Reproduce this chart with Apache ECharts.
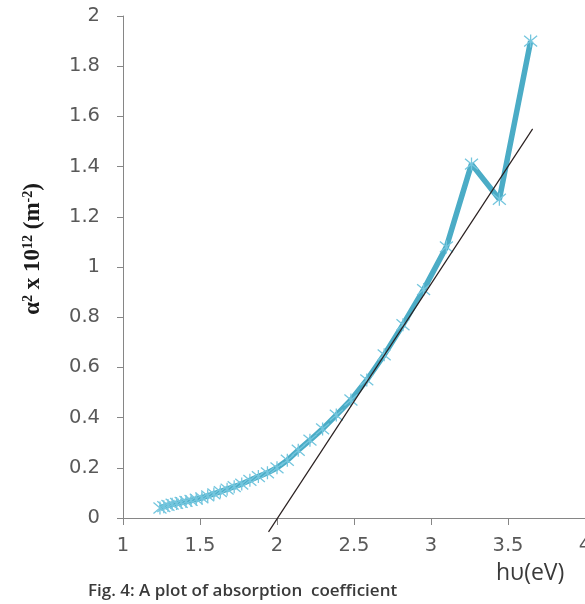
<!DOCTYPE html>
<html>
<head>
<meta charset="utf-8">
<script src="https://cdn.jsdelivr.net/npm/echarts@6/dist/echarts.min.js"></script>
<style>
html,body{margin:0;padding:0;background:#fff;overflow:hidden;}
#c{width:585px;height:604px;}
</style>
</head>
<body>
<div id="c"></div>
<script>
// photon energy hv (eV)
var energy = [1.24, 1.265, 1.292, 1.319, 1.348, 1.378, 1.409, 1.442, 1.476, 1.512,
              1.55, 1.59, 1.632, 1.676, 1.722, 1.771, 1.824, 1.879, 1.938, 2.0,
              2.067, 2.138, 2.214, 2.296, 2.385, 2.48, 2.583, 2.696, 2.818, 2.952,
              3.1, 3.263, 3.444, 3.647];
// alpha^2 x 10^12 (m^-2)
var alpha2 = [0.04, 0.045, 0.05, 0.055, 0.058, 0.062, 0.066, 0.07, 0.075, 0.08,
              0.088, 0.096, 0.105, 0.115, 0.125, 0.135, 0.15, 0.165, 0.18, 0.2,
              0.23, 0.27, 0.31, 0.355, 0.41, 0.47, 0.55, 0.65, 0.77, 0.91,
              1.08, 1.41, 1.27, 1.9];
// linear extrapolation (tangent) line end points
var fitX = [1.945, 3.66];
var fitY = [-0.055, 1.55];
// tick labels
var xTicks = [1, 1.5, 2, 2.5, 3, 3.5, 4];
var yTicks = [0, 0.2, 0.4, 0.6, 0.8, 1, 1.2, 1.4, 1.6, 1.8, 2];

var dataPts = energy.map(function (e, i) { return [e, alpha2[i]]; });
var fitPts = fitX.map(function (e, i) { return [e, fitY[i]]; });

var chart = echarts.init(document.getElementById('c'), null, {renderer: 'canvas', width: 585, height: 604});
var axisCol = '#868686';
var labelCol = '#595959';
chart.setOption({
  animation: false,
  backgroundColor: '#ffffff',
  grid: {left: 123, right: 0, top: 16, bottom: 86, containLabel: false, outerBoundsMode: 'none'},
  xAxis: {
    type: 'value', min: 1, max: 4, interval: 0.5,
    axisLine: {show: true, onZero: false, lineStyle: {color: axisCol, width: 1}},
    axisTick: {show: true, length: 7, lineStyle: {color: axisCol}},
    splitLine: {show: false},
    axisLabel: {margin: 18, color: labelCol, fontFamily: 'DejaVu Sans', fontSize: 19.5,
      formatter: function (v) { return xTicks.indexOf(v) >= 0 ? String(v) : ''; }}
  },
  yAxis: {
    type: 'value', min: 0, max: 2, interval: 0.2,
    axisLine: {show: true, lineStyle: {color: axisCol, width: 1}},
    axisTick: {show: true, length: 6, lineStyle: {color: axisCol}},
    splitLine: {show: false},
    axisLabel: {margin: 23, color: labelCol, fontFamily: 'DejaVu Sans', fontSize: 19.5,
      formatter: function (v) {
        var r = Math.round(v * 10) / 10;
        return yTicks.indexOf(r) >= 0 ? String(r) : '';
      }}
  },
  series: [
    {
      type: 'line', data: dataPts, smooth: false,
      symbol: 'path://M0,0L10,10M10,0L0,10M5,-1L5,11',
      symbolSize: 13,
      itemStyle: {color: 'rgba(0,0,0,0)', borderColor: '#74c6de', borderWidth: 1.3},
      lineStyle: {color: '#4bacc6', width: 5.5},
      z: 2
    },
    {
      type: 'line', data: fitPts, symbol: 'none', clip: false,
      lineStyle: {color: '#2a2020', width: 1.2},
      z: 3
    }
  ],
  graphic: [
    {
      type: 'text', x: 33, y: 249, rotation: Math.PI / 2,
      style: {
        text: '{a|α}{s|2}{a| x 10}{s|12}{a| (m}{s|-2}{a|)}',
        align: 'center', verticalAlign: 'middle',
        rich: {
          a: {fontFamily: 'Liberation Serif', fontWeight: 'bold', fontSize: 23, fill: '#1a1a1a', color: '#1a1a1a'},
          s: {fontFamily: 'Liberation Serif', fontWeight: 'bold', fontSize: 14, fill: '#1a1a1a', color: '#1a1a1a', verticalAlign: 'top'}
        }
      }
    },
    {
      type: 'text', left: 496, top: 562,
      style: {text: 'hυ(eV)', fontFamily: 'Open Sans', fontSize: 23, fill: '#3a3a3a'}
    },
    {
      type: 'text', left: 88, top: 583,
      style: {text: 'Fig. 4: A plot of absorption  coefficient', fontFamily: 'Open Sans', fontWeight: 600, fontSize: 17, fill: '#3a3a3a'}
    }
  ]
});
</script>
</body>
</html>
